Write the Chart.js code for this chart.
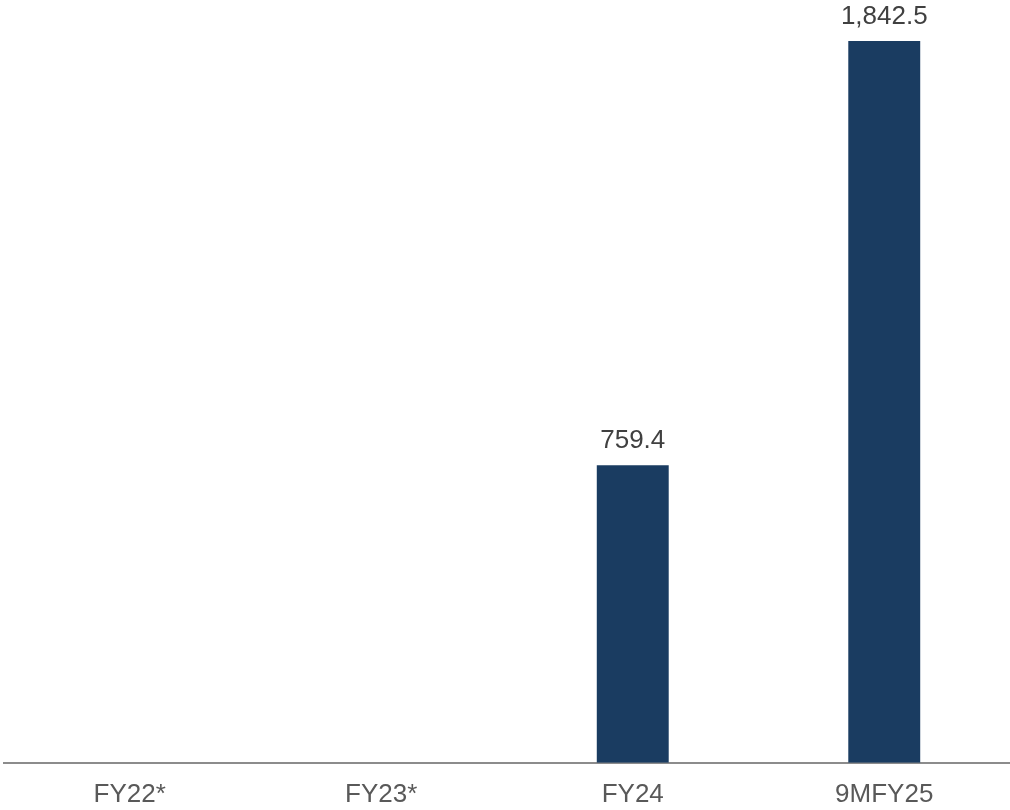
<!DOCTYPE html>
<html lang="en">
<head>
    <meta charset="utf-8">
    <title>Revenue by year</title>
    <script src="https://cdn.jsdelivr.net/npm/chart.js@4.4.1/dist/chart.umd.min.js"></script>
    <style>
        html, body { margin: 0; padding: 0; background: #ffffff; }
        #wrap { width: 1010px; height: 810px; }
    </style>
</head>
<body>
<div id="wrap"><canvas id="revChart"></canvas></div>
<script>
const categories = ["FY22*", "FY23*", "FY24", "9MFY25"];
const values = [null, null, 759.4, 1842.5];
const valueLabels = ["", "", "759.4", "1,842.5"];

// draws the number above each bar
const barLabels = {
    id: "barLabels",
    afterDatasetsDraw(chart) {
        const ctx = chart.ctx;
        const meta = chart.getDatasetMeta(0);
        ctx.save();
        ctx.font = "26px 'Liberation Sans', Arial, sans-serif";
        ctx.fillStyle = "#404040";
        ctx.textAlign = "center";
        ctx.textBaseline = "alphabetic";
        meta.data.forEach((bar, i) => {
            if (values[i] === null) return;
            ctx.fillText(valueLabels[i], bar.x, bar.y - 17);
        });
        ctx.restore();
    }
};

new Chart("revChart", {
    type: "bar",
    data: {
        labels: categories,
        datasets: [{
            data: values,
            backgroundColor: "#1a3c61",
            categoryPercentage: 1,
            barPercentage: 0.286
        }]
    },
    options: {
        responsive: true,
        maintainAspectRatio: false,
        animation: false,
        layout: { padding: { left: 4, right: 0, top: 0, bottom: -16 } },
        plugins: {
            legend: { display: false },
            tooltip: { enabled: false }
        },
        scales: {
            x: {
                grid: { display: false, drawTicks: false },
                border: { display: true, color: "#8c8c8c", width: 2 },
                ticks: {
                    color: "#595959",
                    padding: 16,
                    font: { family: "'Liberation Sans', Arial, sans-serif", size: 26 }
                }
            },
            y: {
                display: false,
                min: 0,
                max: 1947
            }
        }
    },
    plugins: [barLabels]
});
</script>
</body>
</html>
